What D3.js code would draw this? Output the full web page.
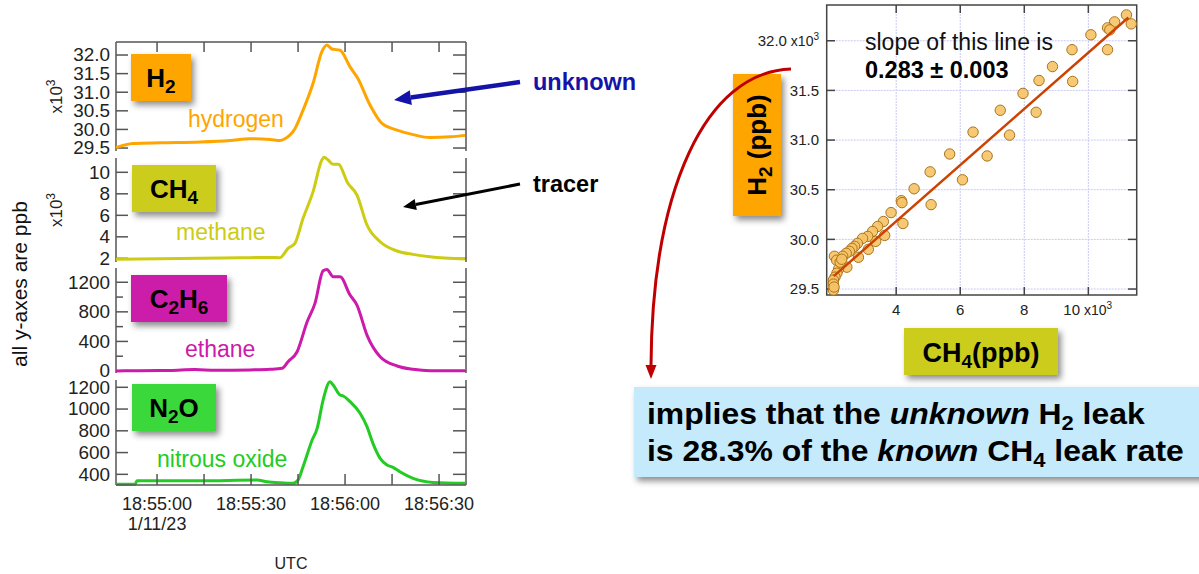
<!DOCTYPE html>
<html>
<head>
<meta charset="utf-8">
<script src="https://cdn.jsdelivr.net/npm/d3@7"></script>
<style>
body { margin: 0; background: #fff; }
svg { font-family: "Liberation Sans", Arial, Helvetica, sans-serif; }
</style>
</head>
<body>
<div id="chart"></div>
<script>
// seconds after 18:55:00 UTC (1/11/23) and mixing ratios, ppb
var h2Time = [-13.1, -7.7, 1.0, 13.7, 23.3, 29.7, 36.1, 39.2, 40.8, 44.0, 46.6, 49.8, 52.6, 54.2, 55.8, 58.4, 61.6, 64.1, 68.0, 71.8, 76.6, 81.7, 87.1, 93.5, 98.3];
var h2Vals = [29.51, 29.62, 29.64, 29.66, 29.70, 29.75, 29.73, 29.70, 29.75, 30.02, 30.52, 31.24, 32.09, 32.27, 32.16, 32.13, 31.68, 31.37, 30.65, 30.16, 29.98, 29.86, 29.78, 29.80, 29.84]; // x10^3

var ch4Time = [-13.1, 1.0, 13.7, 26.5, 36.1, 39.2, 41.8, 44.0, 46.6, 49.8, 52.6, 53.3, 54.6, 56.2, 57.8, 60.9, 63.8, 67.0, 71.2, 76.6, 81.7, 87.1, 98.3];
var ch4Vals = [1.91, 1.97, 2.00, 2.05, 2.08, 2.06, 2.93, 3.40, 5.72, 8.20, 11.14, 11.40, 11.14, 10.74, 10.74, 8.98, 7.89, 5.10, 3.54, 2.68, 2.37, 2.15, 1.93]; // x10^3

var c2h6Time = [-13.1, -5.4, 4.1, 12.1, 18.5, 29.7, 36.1, 39.9, 41.8, 44.7, 47.9, 50.4, 53.0, 54.2, 56.2, 58.4, 61.6, 63.8, 67.0, 71.2, 76.6, 81.7, 87.1, 98.3];
var c2h6Vals = [0, 5, 8, 20, 10, 15, 23, 36, 126, 261, 666, 915, 1355, 1374, 1274, 1274, 1027, 892, 486, 193, 68, 23, 4, 4];

var n2oTime = [-13.1, -7.0, -6.4, 13.7, 31.9, 35.1, 39.2, 43.4, 45.0, 46.6, 49.5, 51.1, 53.0, 55.2, 56.2, 58.4, 59.4, 61.6, 64.8, 67.0, 68.9, 71.2, 73.4, 75.3, 77.5, 81.7, 88.1, 98.3];
var n2oVals = [308, 308, 341, 341, 348, 332, 322, 317, 348, 470, 715, 823, 1083, 1251, 1221, 1129, 1120, 1068, 961, 838, 685, 547, 486, 464, 424, 363, 326, 317];

var h2Ticks = [29.5, 30.0, 30.5, 31.0, 31.5, 32.0];
var ch4Ticks = [2, 4, 6, 8, 10];
var c2h6Ticks = [0, 400, 800, 1200];
var c2h6Minor = [200, 600, 1000];
var n2oTicks = [400, 600, 800, 1000, 1200];
var timeTicks = [0, 30, 60, 90];
var timeMinor = [15, 45, 75];

// scatter: CH4 vs H2, both x10^3 ppb
var scatCH4 = [11.19, 11.34, 10.82, 10.60, 10.67, 10.08, 10.60, 9.49, 8.88, 9.51, 8.46, 7.96, 8.37, 7.25, 7.54, 6.40, 6.84, 5.67, 6.07, 5.06, 4.56, 4.16, 4.18, 5.09, 3.84, 4.21, 3.60, 3.42, 3.26, 3.64, 3.36, 3.11, 2.95, 3.13, 2.79, 2.70, 2.62, 2.54, 2.82, 2.44, 2.33, 2.46, 2.07, 2.14, 2.20, 2.15, 2.09, 2.04, 2.04, 2.04, 2.06, 2.25, 2.30];
var scatH2 = [32.26, 32.17, 32.19, 32.13, 32.11, 32.06, 31.91, 31.91, 31.74, 31.59, 31.60, 31.47, 31.28, 31.30, 31.05, 31.08, 30.84, 30.86, 30.60, 30.68, 30.51, 30.39, 30.37, 30.35, 30.27, 30.16, 30.18, 30.13, 30.08, 30.04, 29.98, 30.03, 30.01, 29.90, 29.96, 29.93, 29.91, 29.88, 29.82, 29.86, 29.83, 29.72, 29.83, 29.79, 29.70, 29.66, 29.62, 29.59, 29.55, 29.49, 29.52, 29.77, 29.80];
var scatXTicks = [4, 6, 8, 10];
var scatYTicks = [29.5, 30.0, 30.5, 31.0, 31.5, 32.0];
var fitSlope = 0.283, fitIntercept = 29.05;
var fitRange = [2.05, 11.25];

var W = 1199, H = 574;
var svg = d3.select("#chart").append("svg").attr("width", W).attr("height", H);

var defs = svg.append("defs");
var f = defs.append("filter").attr("id", "shadow").attr("x", "-20%").attr("y", "-20%").attr("width", "150%").attr("height", "160%");
f.append("feDropShadow").attr("dx", 3).attr("dy", 4).attr("stdDeviation", 3)
    .attr("flood-color", "#000").attr("flood-opacity", 0.45);

var axisCol = "#555";

// ---------- left: time series stack ----------
var t0 = Date.UTC(2023, 0, 11, 18, 55, 0);
function toDate(s) { return new Date(t0 + s * 1000); }

var x = d3.scaleUtc()
    .domain([toDate(-13.1), toDate(98.6)])
    .range([116, 466]);

var panels = [
    {sym: [["H"], ["2", 1]], name: "hydrogen", color: "#FFA500", time: h2Time, vals: h2Vals,
     domain: [29.42, 32.35], ticks: h2Ticks, minor: [], fmt: d3.format(".1f"), top: 42, bottom: 151, exp: true,
     box: [131, 54, 60, 47], nameAt: [188, 127]},
    {sym: [["CH"], ["4", 1]], name: "methane", color: "#CCCC14", time: ch4Time, vals: ch4Vals,
     domain: [1.66, 11.33], ticks: ch4Ticks, minor: [], fmt: d3.format("d"), top: 158, bottom: 262, exp: true,
     box: [132, 165, 84, 47], nameAt: [176, 240]},
    {sym: [["C"], ["2", 1], ["H"], ["6", 1]], name: "ethane", color: "#CC1AAA", time: c2h6Time, vals: c2h6Vals,
     domain: [-27, 1393], ticks: c2h6Ticks, minor: c2h6Minor, fmt: d3.format("d"), top: 268, bottom: 373, exp: false,
     box: [131, 275, 96, 47], nameAt: [185, 357]},
    {sym: [["N"], ["2", 1], ["O"]], name: "nitrous oxide", color: "#22CC22", time: n2oTime, vals: n2oVals,
     domain: [302, 1267], ticks: n2oTicks, minor: [], fmt: d3.format("d"), top: 380, bottom: 485, exp: false,
     box: [132, 384, 84, 47], nameAt: [157, 467]}
];

var boxCol = ["#FFA500", "#CCCC1A", "#CC1AAA", "#3AD83A"];

panels.forEach(function(p, i) {
    var y = d3.scaleLinear().domain(p.domain).range([p.bottom, p.top]);
    var g = svg.append("g");

    // left and right axes, ticks pointing inward
    g.append("line").attr("x1", 116).attr("x2", 116).attr("y1", p.top).attr("y2", p.bottom)
        .attr("stroke", axisCol).attr("stroke-width", 1.5);
    g.append("line").attr("x1", 466).attr("x2", 466).attr("y1", p.top).attr("y2", p.bottom)
        .attr("stroke", axisCol).attr("stroke-width", 1.5);

    g.selectAll(".lt").data(p.ticks).enter().append("line")
        .attr("x1", 116).attr("x2", 128)
        .attr("y1", function(d) { return y(d); }).attr("y2", function(d) { return y(d); })
        .attr("stroke", axisCol).attr("stroke-width", 1.5);
    g.selectAll(".rt").data(p.ticks).enter().append("line")
        .attr("x1", 453).attr("x2", 466)
        .attr("y1", function(d) { return y(d); }).attr("y2", function(d) { return y(d); })
        .attr("stroke", axisCol).attr("stroke-width", 1.5);
    g.selectAll(".lm").data(p.minor).enter().append("line")
        .attr("x1", 116).attr("x2", 123)
        .attr("y1", function(d) { return y(d); }).attr("y2", function(d) { return y(d); })
        .attr("stroke", axisCol).attr("stroke-width", 1.5);
    g.selectAll(".rm").data(p.minor).enter().append("line")
        .attr("x1", 459).attr("x2", 466)
        .attr("y1", function(d) { return y(d); }).attr("y2", function(d) { return y(d); })
        .attr("stroke", axisCol).attr("stroke-width", 1.5);

    g.selectAll(".tl").data(p.ticks).enter().append("text")
        .attr("x", 110).attr("y", function(d) { return y(d); }).attr("dy", "0.36em")
        .attr("text-anchor", "end").attr("font-size", 17.5).attr("fill", "#222")
        .attr("transform", function(d) { return "translate(110," + y(d) + ") scale(1.08,1) translate(-110," + (-y(d)) + ")"; })
        .text(p.fmt);

    if (p.exp) {
        var ex = g.append("text")
            .attr("transform", "translate(62," + ((p.top + p.bottom) / 2) + ") rotate(-90)")
            .attr("text-anchor", "middle").attr("font-size", 17).attr("fill", "#222");
        ex.append("tspan").text("x10");
        ex.append("tspan").attr("dy", -7).attr("font-size", 12).text("3");
    }

    // trace
    var pts = p.time.map(function(t, k) { return [toDate(t), p.vals[k]]; });
    var line = d3.line()
        .x(function(d) { return x(d[0]); })
        .y(function(d) { return y(d[1]); })
        .curve(d3.curveMonotoneX);
    g.append("path").datum(pts).attr("d", line)
        .attr("fill", "none").attr("stroke", p.color).attr("stroke-width", 3)
        .attr("stroke-linejoin", "round");

    // formula box
    var b = p.box;
    g.append("rect").attr("x", b[0]).attr("y", b[1]).attr("width", b[2]).attr("height", b[3])
        .attr("fill", boxCol[i]).attr("filter", "url(#shadow)");
    var lab = g.append("text").attr("x", b[0] + b[2] / 2).attr("y", b[1] + 33)
        .attr("text-anchor", "middle").attr("font-size", 26).attr("font-weight", "bold").attr("fill", "#000");
    var prevSub = false;
    p.sym.forEach(function(s) {
        if (s[1]) {
            lab.append("tspan").attr("font-size", 19).attr("dy", 6).text(s[0]);
        } else {
            lab.append("tspan").attr("dy", prevSub ? -6 : 0).text(s[0]);
        }
        prevSub = !!s[1];
    });

    g.append("text").attr("x", p.nameAt[0]).attr("y", p.nameAt[1])
        .attr("font-size", 23).attr("fill", p.color).text(p.name);
});

// top and bottom time axes
svg.append("line").attr("x1", 116).attr("x2", 466).attr("y1", 42).attr("y2", 42)
    .attr("stroke", axisCol).attr("stroke-width", 1.5);
svg.append("line").attr("x1", 116).attr("x2", 466).attr("y1", 485).attr("y2", 485)
    .attr("stroke", axisCol).attr("stroke-width", 1.5);
var allT = timeTicks.concat(timeMinor);
svg.selectAll(".tt").data(allT).enter().append("line")
    .attr("x1", function(d) { return x(toDate(d)); }).attr("x2", function(d) { return x(toDate(d)); })
    .attr("y1", 42).attr("y2", 52).attr("stroke", axisCol).attr("stroke-width", 1.5);
svg.selectAll(".bt").data(allT).enter().append("line")
    .attr("x1", function(d) { return x(toDate(d)); }).attr("x2", function(d) { return x(toDate(d)); })
    .attr("y1", 474).attr("y2", 485).attr("stroke", axisCol).attr("stroke-width", 1.5);

var tfmt = d3.utcFormat("%H:%M:%S");
svg.selectAll(".tx").data(timeTicks).enter().append("text")
    .attr("x", function(d) { return x(toDate(d)); }).attr("y", 510)
    .attr("text-anchor", "middle").attr("font-size", 18).attr("fill", "#222")
    .text(function(d) { return tfmt(toDate(d)); });
svg.append("text").attr("x", x(toDate(0))).attr("y", 530)
    .attr("text-anchor", "middle").attr("font-size", 18).attr("fill", "#222")
    .text(d3.utcFormat("%-m/%-d/%y")(toDate(0)));
svg.append("text").attr("x", 291).attr("y", 569).attr("text-anchor", "middle")
    .attr("font-size", 16).attr("fill", "#222").text("UTC");

svg.append("text").attr("transform", "translate(27,284) rotate(-90)")
    .attr("text-anchor", "middle").attr("font-size", 21).attr("fill", "#111")
    .text("all y-axes are ppb");

// annotation arrows
function arrow(x1, y1, x2, y2, col, w, hl, hw) {
    var a = Math.atan2(y2 - y1, x2 - x1);
    var bx = x2 - hl * Math.cos(a), by = y2 - hl * Math.sin(a);
    svg.append("line").attr("x1", x1).attr("y1", y1).attr("x2", bx).attr("y2", by)
        .attr("stroke", col).attr("stroke-width", w);
    var nx = -Math.sin(a) * hw / 2, ny = Math.cos(a) * hw / 2;
    svg.append("path")
        .attr("d", "M" + x2 + "," + y2 + "L" + (bx + nx) + "," + (by + ny) + "L" + (bx - nx) + "," + (by - ny) + "Z")
        .attr("fill", col);
}
arrow(520, 82, 394, 100, "#1414A8", 4.5, 17, 15);
arrow(520, 184, 403, 207, "#000", 3, 13, 11);
svg.append("text").attr("x", 533).attr("y", 90).attr("font-size", 23.5).attr("font-weight", "bold")
    .attr("fill", "#1414A8").text("unknown");
svg.append("text").attr("x", 533).attr("y", 192).attr("font-size", 23.5).attr("font-weight", "bold")
    .attr("fill", "#000").text("tracer");

// ---------- right: scatter ----------
var sx = d3.scaleLinear().domain([1.83, 11.51]).range([826.7, 1136.7]);
var sy = d3.scaleLinear().domain([29.44, 32.36]).range([295, 5]);
var sg = svg.append("g");

sg.selectAll(".gx").data(scatXTicks).enter().append("line")
    .attr("x1", function(d) { return sx(d); }).attr("x2", function(d) { return sx(d); })
    .attr("y1", 5).attr("y2", 295)
    .attr("stroke", "#C8C8F4").attr("stroke-width", 1).attr("stroke-dasharray", "2,1");
sg.selectAll(".gy").data(scatYTicks).enter().append("line")
    .attr("y1", function(d) { return sy(d); }).attr("y2", function(d) { return sy(d); })
    .attr("x1", 826.7).attr("x2", 1136.7)
    .attr("stroke", "#C8C8F4").attr("stroke-width", 1).attr("stroke-dasharray", "2,1");

sg.append("rect").attr("x", 826.7).attr("y", 5).attr("width", 310).attr("height", 290)
    .attr("fill", "none").attr("stroke", "#444").attr("stroke-width", 1.5);

[[5, 13], [295, 287]].forEach(function(r) {
    sg.selectAll(null).data(scatXTicks).enter().append("line")
        .attr("x1", function(d) { return sx(d); }).attr("x2", function(d) { return sx(d); })
        .attr("y1", r[0]).attr("y2", r[1]).attr("stroke", "#444").attr("stroke-width", 1.5);
});
[[826.7, 835], [1136.7, 1128]].forEach(function(r) {
    sg.selectAll(null).data(scatYTicks).enter().append("line")
        .attr("y1", function(d) { return sy(d); }).attr("y2", function(d) { return sy(d); })
        .attr("x1", r[0]).attr("x2", r[1]).attr("stroke", "#444").attr("stroke-width", 1.5);
});

sg.selectAll(".sylab").data(scatYTicks).enter().append("text")
    .attr("x", 819).attr("y", function(d) { return sy(d); }).attr("dy", "0.36em")
    .attr("text-anchor", "end").attr("font-size", 15).attr("fill", "#222")
    .each(function(d) {
        var t = d3.select(this);
        t.append("tspan").text(d3.format(".1f")(d));
        if (d === scatYTicks[scatYTicks.length - 1]) {
            t.append("tspan").attr("font-size", 14).text(" x10");
            t.append("tspan").attr("font-size", 10).attr("dy", -6).text("3");
        }
    });
sg.selectAll(".sxlab").data(scatXTicks).enter().append("text")
    .attr("x", function(d, i) { return i === scatXTicks.length - 1 ? sx(d) - 25 : sx(d); })
    .attr("y", 315).attr("text-anchor", function(d, i) { return i === scatXTicks.length - 1 ? "start" : "middle"; })
    .attr("font-size", 15).attr("fill", "#222")
    .each(function(d, i) {
        var t = d3.select(this);
        t.append("tspan").text(d);
        if (i === scatXTicks.length - 1) {
            t.append("tspan").attr("font-size", 14).text(" x10");
            t.append("tspan").attr("font-size", 10).attr("dy", -6).text("3");
        }
    });

sg.selectAll("circle").data(scatCH4).enter().append("circle")
    .attr("cx", function(d) { return sx(d); })
    .attr("cy", function(d, i) { return sy(scatH2[i]); })
    .attr("r", 5.2)
    .attr("fill", "#F7C366").attr("fill-opacity", 0.9)
    .attr("stroke", "#A8741C").attr("stroke-width", 1);

sg.append("line")
    .attr("x1", sx(fitRange[0])).attr("y1", sy(fitIntercept + fitSlope * fitRange[0]))
    .attr("x2", sx(fitRange[1])).attr("y2", sy(fitIntercept + fitSlope * fitRange[1]))
    .attr("stroke", "#CC4200").attr("stroke-width", 2.5);

sg.append("text").attr("x", 865).attr("y", 50).attr("font-size", 23).attr("fill", "#111")
    .text("slope of this line is");
sg.append("text").attr("x", 865).attr("y", 78).attr("font-size", 23.5).attr("font-weight", "bold").attr("fill", "#000")
    .text("0.283 ± 0.003");

// axis title boxes
svg.append("rect").attr("x", 733).attr("y", 74).attr("width", 48).attr("height", 142)
    .attr("fill", "#FFA500").attr("filter", "url(#shadow)");
var yl = svg.append("text").attr("transform", "translate(766,145) rotate(-90)")
    .attr("text-anchor", "middle").attr("font-size", 26).attr("font-weight", "bold").attr("fill", "#000");
yl.append("tspan").text("H");
yl.append("tspan").attr("font-size", 19).attr("dy", 6).text("2");
yl.append("tspan").attr("dy", -6).text(" (ppb)");

svg.append("rect").attr("x", 904).attr("y", 328).attr("width", 154).attr("height", 47)
    .attr("fill", "#CCCC1A").attr("filter", "url(#shadow)");
var xl = svg.append("text").attr("x", 981).attr("y", 362)
    .attr("text-anchor", "middle").attr("font-size", 27).attr("font-weight", "bold").attr("fill", "#000");
xl.append("tspan").text("CH");
xl.append("tspan").attr("font-size", 19).attr("dy", 6).text("4");
xl.append("tspan").attr("dy", -6).text("(ppb)");

// red curved arrow
svg.append("path").attr("d", "M791,69 C705,72 652,190 651,366")
    .attr("fill", "none").attr("stroke", "#C00000").attr("stroke-width", 3);
svg.append("path").attr("d", "M651,379 L645.5,365 L656.5,365 Z").attr("fill", "#C00000");

// conclusion box
svg.append("rect").attr("x", 634).attr("y", 387).attr("width", 575).attr("height", 90)
    .attr("fill", "#C5EAFB").attr("filter", "url(#shadow)");
var c1 = svg.append("text").attr("transform", "translate(647,424) scale(1.1,1)").attr("font-size", 29)
    .attr("font-weight", "bold").attr("fill", "#000");
c1.append("tspan").text("implies that the ");
c1.append("tspan").attr("font-style", "italic").text("unknown");
c1.append("tspan").text(" H");
c1.append("tspan").attr("font-size", 20).attr("dy", 6).text("2");
c1.append("tspan").attr("dy", -6).text(" leak");
var c2 = svg.append("text").attr("transform", "translate(647,461) scale(1.1,1)").attr("font-size", 29)
    .attr("font-weight", "bold").attr("fill", "#000");
c2.append("tspan").text("is 28.3% of the ");
c2.append("tspan").attr("font-style", "italic").text("known");
c2.append("tspan").text(" CH");
c2.append("tspan").attr("font-size", 20).attr("dy", 6).text("4");
c2.append("tspan").attr("dy", -6).text(" leak rate");
</script>
</body>
</html>
